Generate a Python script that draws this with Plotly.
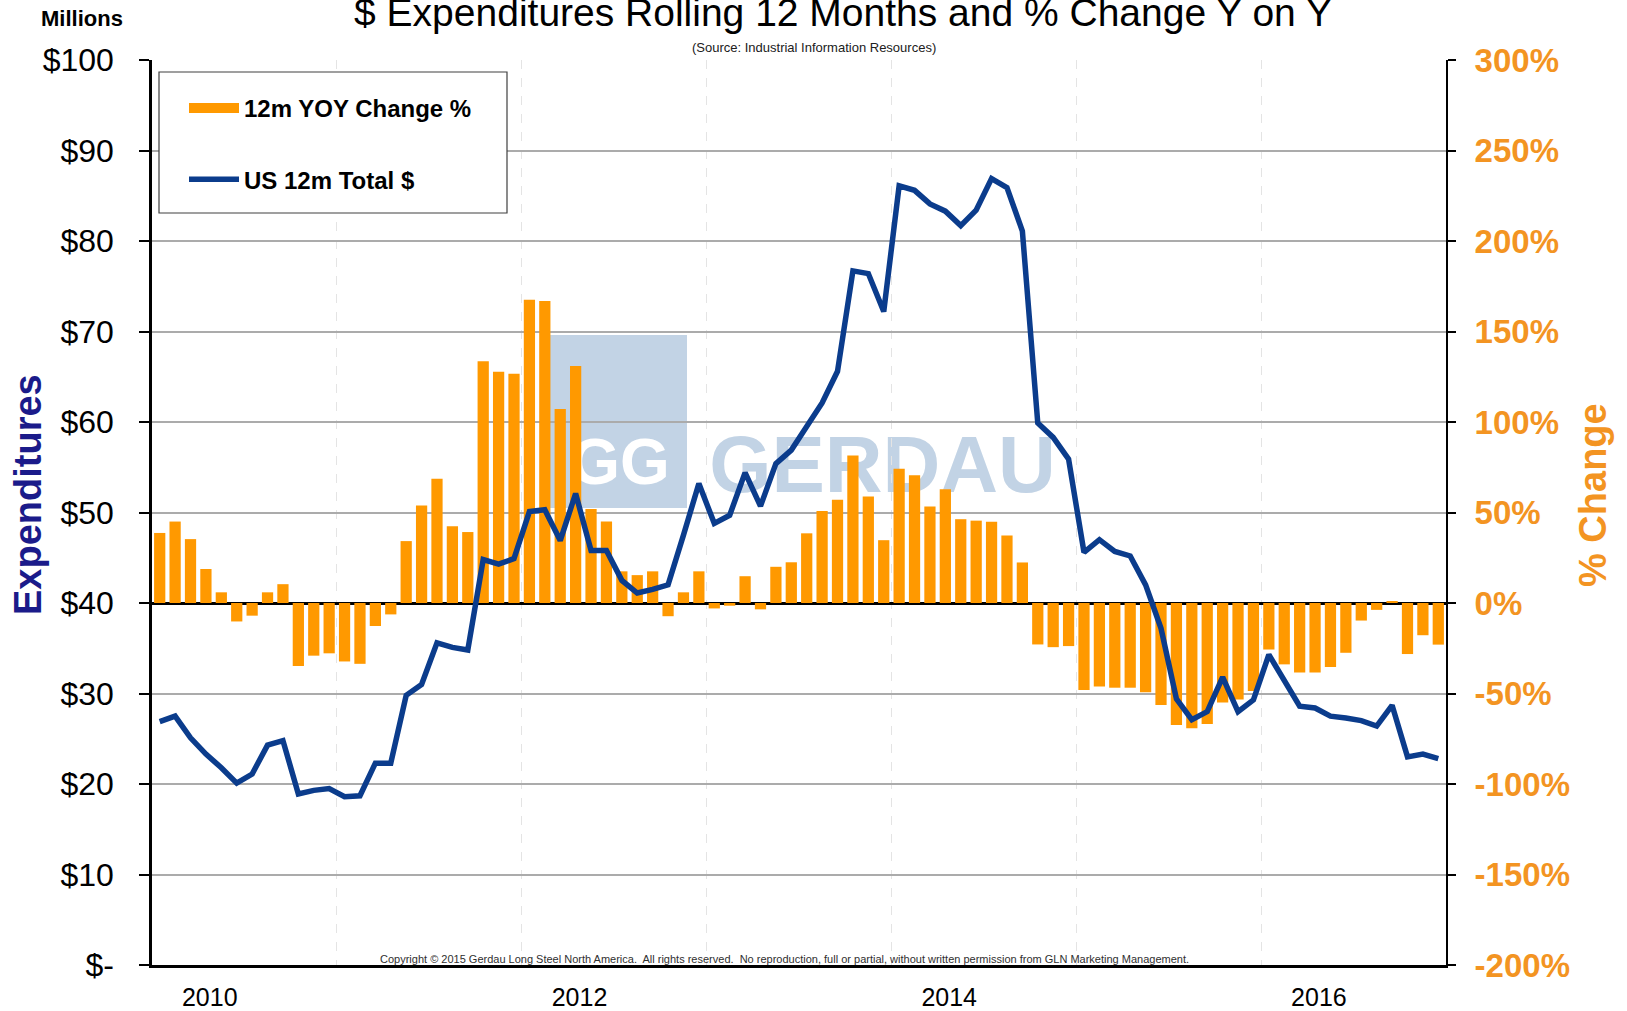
import plotly.graph_objects as go

# ---------------- data ----------------
yoy_change_pct = [38.7, 45.0, 35.3, 18.8, 5.9, -10.2, -7.0, 5.9, 10.4, -34.8,
                  -29.1, -27.8, -32.3, -33.6, -12.7, -6.3, 34.2, 53.9, 68.7, 42.4,
                  39.2, 133.5, 127.8, 126.6, 167.5, 166.9, 107.2, 131.0, 52.0, 45.0,
                  17.5, 15.4, 17.5, -7.3, 5.9, 17.5, -3.0, -1.5, 14.8, -3.5,
                  20.0, 22.5, 38.5, 50.8, 57.1, 81.5, 58.9, 34.7, 74.2, 70.6,
                  53.3, 62.9, 46.3, 45.5, 44.9, 37.3, 22.4, -22.9, -24.4, -23.8,
                  -48.1, -46.2, -46.8, -46.8, -49.3, -56.3, -67.4, -69.2, -66.8, -55.0,
                  -53.3, -48.6, -25.7, -33.9, -38.4, -38.4, -35.4, -27.5, -9.7, -3.8,
                  0.9, -28.2, -17.8, -23.0]

us_12m_total = [26.9, 27.5, 25.1, 23.3, 21.8, 20.1, 21.1, 24.3, 24.8, 18.9,
                19.3, 19.5, 18.6, 18.7, 22.3, 22.3, 29.8, 31.0, 35.6, 35.1,
                34.8, 44.8, 44.3, 44.9, 50.1, 50.3, 46.9, 52.1, 45.8, 45.8,
                42.5, 41.1, 41.5, 42.0, 47.5, 53.2, 48.8, 49.7, 54.4, 50.7,
                55.4, 56.9, 59.5, 62.1, 65.6, 76.7, 76.4, 72.2, 86.1, 85.6,
                84.1, 83.3, 81.7, 83.4, 86.9, 85.9, 81.1, 59.9, 58.3, 55.9,
                45.6, 47.0, 45.7, 45.2, 42.0, 37.2, 29.4, 27.1, 28.0, 31.8,
                28.0, 29.3, 34.3, 31.5, 28.6, 28.4, 27.5, 27.3, 27.0, 26.4,
                28.7, 23.0, 23.3, 22.8]

year_labels = ['2010', '2012', '2014', '2016']
year_label_month_idx = [3, 27, 51, 75]
year_boundary_idx = [12, 24, 36, 48, 60, 72]

dollar_ticks = [0, 10, 20, 30, 40, 50, 60, 70, 80, 90, 100]
dollar_tick_labels = ['$-', '$10', '$20', '$30', '$40', '$50', '$60', '$70', '$80', '$90', '$100']
pct_ticks = [-200, -150, -100, -50, 0, 50, 100, 150, 200, 250, 300]
pct_tick_labels = ['-200%', '-150%', '-100%', '-50%', '0%', '50%', '100%', '150%', '200%', '250%', '300%']

months = list(range(len(us_12m_total)))

# ---------------- style ----------------
ORANGE = '#FF9900'
ORANGE_TXT = '#F39422'
NAVY = '#0B3C8C'
TITLE_NAVY = '#1B1B8A'
WM = '#C2D3E5'
FONT = 'Liberation Sans, Arial, sans-serif'

FW, FH = 1627, 1011
L, R, T, B = 152, 1446, 60, 965
PW, PH = R - L, B - T


def px(p):
    return (p - L) / PW


def py(p):
    return (B - p) / PH


fig = go.Figure()
fig.add_trace(go.Bar(x=months, y=yoy_change_pct, name='12m YOY Change %',
                     marker=dict(color=ORANGE, line=dict(width=0)),
                     yaxis='y', showlegend=False, hoverinfo='skip'))
fig.add_trace(go.Scatter(x=[None], y=[None], mode='lines', name='12m YOY Change %',
                         line=dict(color=ORANGE, width=10), yaxis='y', legendgroup='a'))
fig.add_trace(go.Scatter(x=months, y=us_12m_total, mode='lines', name='US 12m Total $',
                         line=dict(color=NAVY, width=5.5), yaxis='y2', legendgroup='b'))

shapes = [
    # watermark square
    dict(type='rect', xref='paper', yref='paper', x0=px(550), x1=px(687), y0=py(508), y1=py(335),
         fillcolor=WM, line=dict(width=0), layer='below'),
    dict(type='rect', xref='paper', yref='paper', x0=px(560), x1=px(680), y0=py(494), y1=py(418),
         fillcolor='rgba(0,0,0,0)', line=dict(width=0), layer='below',
         label=dict(text='GG', textposition='middle center',
                    font=dict(family=FONT, size=64, color='white', weight='bold'))),
    dict(type='rect', xref='paper', yref='paper', x0=px(700), x1=px(1065), y0=py(496), y1=py(416),
         fillcolor='rgba(0,0,0,0)', line=dict(width=0), layer='below',
         label=dict(text='GERDAU', textposition='middle center',
                    font=dict(family=FONT, size=80, color=WM, weight='bold'))),
    # legend box
    dict(type='rect', xref='paper', yref='paper', x0=px(159), x1=px(507), y0=py(213), y1=py(72),
         fillcolor='white', line=dict(color='#404040', width=1.2), layer='above'),
]

annotations = [
    dict(text='Millions', xref='paper', yref='paper', x=px(39), y=py(18.5), xanchor='left',
         yanchor='middle', showarrow=False, font=dict(size=22, color='black', weight='bold')),
    dict(text='(Source: Industrial Information Resources)', xref='paper', yref='paper',
         x=px(814), y=py(48), xanchor='center', yanchor='middle', showarrow=False,
         font=dict(size=13, color='#202020')),
    dict(text='Copyright \u00a9 2015 Gerdau Long Steel North America.  All rights reserved.  '
              'No reproduction, full or partial, without written permission from GLN Marketing Management.',
         xref='paper', yref='paper', x=px(784.5), y=py(958.5), xanchor='center', yanchor='middle',
         showarrow=False, font=dict(size=11, color='#303030')),
    dict(text='Expenditures', xref='paper', yref='paper', x=px(28), y=py(495), xanchor='center',
         yanchor='middle', textangle=-90, showarrow=False,
         font=dict(size=38, color=TITLE_NAVY, weight='bold')),
    dict(text='% Change', xref='paper', yref='paper', x=px(1593), y=py(495), xanchor='center',
         yanchor='middle', textangle=-90, showarrow=False,
         font=dict(size=38, color=ORANGE_TXT, weight='bold')),
]

fig.update_layout(
    width=FW, height=FH,
    margin=dict(l=L, r=FW - R, t=T, b=FH - B, autoexpand=False),
    paper_bgcolor='white', plot_bgcolor='white',
    bargap=0.27,
    font=dict(family=FONT, color='black'),
    title=dict(text='$ Expenditures Rolling 12 Months and % Change Y on Y',
               x=843 / FW, xanchor='center', y=1 - 12 / FH, yanchor='middle',
               font=dict(size=39, color='black')),
    xaxis=dict(range=[-0.5, len(months) - 0.5], tickmode='array',
               tickvals=[i + 0.25 for i in year_label_month_idx], ticktext=year_labels,
               ticks='', showgrid=False, zeroline=False, showline=True,
               linecolor='black', linewidth=3, tickfont=dict(size=25),
               ticklabelstandoff=8,
               minor=dict(tickmode='array', tickvals=[i - 0.5 for i in year_boundary_idx],
                          showgrid=True, gridcolor='#E4E4E4', griddash='dash', gridwidth=1,
                          ticks='')),
    yaxis=dict(side='right', range=[-200, 300], tickmode='array', tickvals=pct_ticks,
               ticktext=pct_tick_labels, showgrid=False, zeroline=True, zerolinecolor='black',
               zerolinewidth=3, showline=True, linecolor='black', linewidth=2,
               ticks='outside', ticklen=8, tickcolor='black', tickwidth=1.5,
               ticklabelstandoff=12,
               tickfont=dict(size=33, color=ORANGE_TXT, weight='bold')),
    yaxis2=dict(overlaying='y', side='left', range=[0, 100], tickmode='array',
                tickvals=dollar_ticks, ticktext=dollar_tick_labels, showgrid=True,
                gridcolor='#ABABAB', gridwidth=1.5, zeroline=False, showline=True,
                linecolor='black', linewidth=2.5, ticks='outside', ticklen=10,
                tickcolor='black', tickwidth=1.5, ticklabelstandoff=19,
                tickfont=dict(size=32, color='black')),
    legend=dict(x=px(184), y=py(86), xanchor='left', yanchor='top',
                bgcolor='rgba(0,0,0,0)', borderwidth=0, traceorder='grouped',
                tracegroupgap=37, itemwidth=50,
                font=dict(size=24, color='black', weight='bold')),
    shapes=shapes,
    annotations=annotations,
    hovermode=False,
)

fig.write_html('out.html')
